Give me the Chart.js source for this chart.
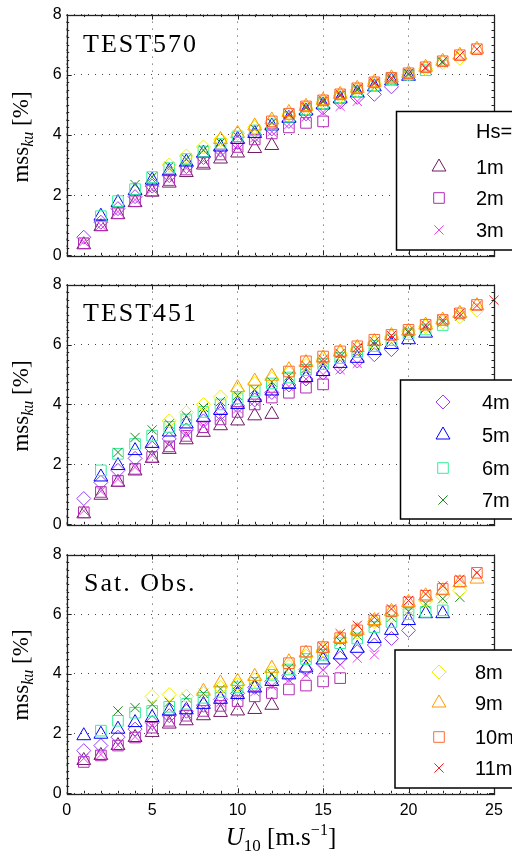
<!DOCTYPE html>
<html>
<head>
<meta charset="utf-8">
<script src="https://cdn.jsdelivr.net/npm/chart.js@4.4.1/dist/chart.umd.min.js"></script>
<style>
  html, body { margin: 0; padding: 0; background: #fff; }
  #wrap { position: relative; width: 512px; height: 861px; overflow: hidden; }
  #wrap canvas { position: absolute; left: 0; }
  .ylab, .xlab, .ptitle { position: absolute; font-family: "Liberation Serif", "DejaVu Serif", serif; color: #000; white-space: nowrap; }
  .ylab { font-size: 23px; transform: translate(-50%, -50%) rotate(-90deg); }
  .ylab sub { font-size: 16px; font-style: italic; vertical-align: -5px; }
  .xlab { font-size: 25px; transform: translate(-50%, -50%); }
  .xlab sub { font-size: 17px; vertical-align: -6px; }
  .xlab sup { font-size: 16px; vertical-align: 10px; }
  .ptitle { font-size: 26px; letter-spacing: 2px; line-height: 26px; }
</style>
</head>
<body>
<div id="wrap">
  <canvas id="c570" width="512" height="270" style="top:0px"></canvas>
  <canvas id="c451" width="512" height="270" style="top:270px"></canvas>
  <canvas id="cSat" width="512" height="290" style="top:540px"></canvas>
  <div class="ptitle" style="left:83px; top:31px">TEST570</div>
  <div class="ptitle" style="left:83px; top:300px">TEST451</div>
  <div class="ptitle" style="left:84px; top:570px">Sat. Obs.</div>
  <div class="ylab" style="left:22px; top:137px">mss<sub>ku</sub> [%]</div>
  <div class="ylab" style="left:22px; top:406px">mss<sub>ku</sub> [%]</div>
  <div class="ylab" style="left:22px; top:675px">mss<sub>ku</sub> [%]</div>
  <div class="xlab" style="left:281px; top:838px"><i>U</i><sub>10</sub> [m.s<sup>&minus;1</sup>]</div>
</div>
<script>
// wind speed bins, m/s (column i of every row below)
const windSpeed = [1, 2, 3, 4, 5, 6, 7, 8, 9, 10, 11, 12, 13, 14, 15, 16, 17, 18, 19, 20, 21, 22, 23, 24, 25];

const hsLabels = ["1m", "2m", "3m", "4m", "5m", "6m", "7m", "8m", "9m", "10m", "11m"];
const hsColors = ["#6e1c62", "#b02cb4", "#f03cf0", "#9a3cf0", "#0000ff", "#33f09c",
                  "#1c8c1c", "#f0f000", "#ff9a00", "#ff6a33", "#ff1a1a"];
const hsMarkers = ["triangle", "rect", "crossRot", "rectRot", "triangle", "rect",
                   "crossRot", "rectRot", "triangle", "rect", "crossRot"];

const yTicks = [0, 2, 4, 6, 8];
const xTicks = [0, 5, 10, 15, 20, 25];

const _ = null;

// mss_ku [%] per Hs class, TEST570
const test570 = [
  [0.35, 0.95, 1.35, 1.75, 2.1, 2.4, 2.75, 3.0, 3.2, 3.4, 3.55, 3.65, _, _, _, _, _, _, _, _, _, _, _, _, _],
  [0.4, 1.0, 1.4, 1.8, 2.15, 2.5, 2.85, 3.1, 3.35, 3.6, 3.85, 4.05, 4.25, 4.4, 4.45, _, _, _, _, _, _, _, _, _, _],
  [0.45, 1.0, 1.45, 1.85, 2.2, 2.55, 2.9, 3.15, 3.4, 3.65, 3.9, 4.1, 4.35, 4.6, 4.75, 4.95, 5.12, _, _, _, _, _, _, _, _],
  [0.6, 1.1, 1.55, 1.95, 2.3, 2.65, 2.95, 3.25, 3.5, 3.75, 4.0, 4.2, 4.45, 4.7, 4.9, 5.1, 5.25, 5.35, 5.6, _, _, _, _, _, _],
  [_, 1.3, 1.75, 2.15, 2.5, 2.8, 3.1, 3.4, 3.6, 3.85, 4.05, 4.3, 4.55, 4.8, 5.0, 5.2, 5.4, 5.6, 5.8, 5.95, _, _, _, _, _],
  [_, 1.3, 1.8, 2.2, 2.6, 2.9, 3.2, 3.45, 3.7, 3.95, 4.15, 4.35, 4.6, 4.85, 5.05, 5.25, 5.45, 5.65, 5.85, 6.0, 6.15, _, _, _, _],
  [_, _, _, 2.35, 2.6, 2.95, 3.2, 3.5, 3.75, 3.95, 4.2, 4.4, 4.65, 4.9, 5.1, 5.3, 5.5, 5.7, 5.85, 6.0, 6.2, 6.4, _, _, _],
  [_, _, _, _, _, 3.0, 3.3, 3.6, 3.85, 4.05, 4.25, 4.45, 4.7, 4.9, 5.1, 5.3, 5.5, 5.7, 5.85, 6.0, 6.2, 6.4, 6.55, _, _],
  [_, _, _, _, _, _, _, _, 3.85, 4.05, 4.3, 4.5, 4.75, 4.95, 5.15, 5.35, 5.55, 5.75, 5.9, 6.05, 6.25, 6.45, 6.65, 6.85, _],
  [_, _, _, _, _, _, _, _, _, _, _, 4.45, 4.7, 4.95, 5.15, 5.35, 5.55, 5.75, 5.9, 6.05, 6.25, 6.45, 6.65, 6.85, _],
  [_, _, _, _, _, _, _, _, _, _, _, _, 4.7, 4.95, 5.15, 5.35, 5.55, 5.75, 5.9, 6.05, 6.25, 6.45, 6.65, 6.85, _]
];

// TEST451
const test451 = [
  [0.35, 0.97, 1.4, 1.78, 2.2, 2.5, 2.82, 3.07, 3.29, 3.45, 3.62, 3.67, _, _, _, _, _, _, _, _, _, _, _, _, _],
  [0.4, 1.08, 1.45, 1.85, 2.25, 2.6, 2.95, 3.24, 3.5, 3.75, 4.0, 4.23, 4.39, 4.56, 4.67, _, _, _, _, _, _, _, _, _, _],
  [0.45, 1.1, 1.5, 1.9, 2.3, 2.65, 3.0, 3.3, 3.6, 3.85, 4.1, 4.35, 4.6, 4.85, 5.0, 5.16, 5.37, _, _, _, _, _, _, _, _],
  [0.86, 1.4, 1.8, 2.2, 2.54, 2.85, 3.15, 3.45, 3.7, 3.95, 4.15, 4.4, 4.65, 4.85, 5.05, 5.25, 5.45, 5.66, 5.83, _, _, _, _, _, _],
  [_, 1.58, 1.96, 2.46, 2.7, 3.08, 3.35, 3.57, 3.8, 4.0, 4.23, 4.45, 4.67, 4.9, 5.1, 5.37, 5.54, 5.8, 6.0, 6.16, 6.38, _, _, _, _],
  [_, 1.8, 2.35, 2.68, 2.96, 3.25, 3.5, 3.75, 4.0, 4.2, 4.45, 4.7, 4.9, 5.15, 5.35, 5.55, 5.75, 5.95, 6.15, 6.35, 6.5, 6.65, _, _, _],
  [_, _, 2.4, 2.9, 3.15, 3.35, 3.62, 3.9, 4.1, 4.3, 4.5, 4.75, 4.95, 5.2, 5.4, 5.6, 5.8, 6.0, 6.2, 6.4, 6.55, 6.75, 6.95, _, _],
  [_, _, _, _, _, 3.45, 3.73, 4.0, 4.25, 4.45, 4.7, 4.85, 5.05, 5.3, 5.5, 5.7, 5.85, 6.05, 6.25, 6.45, 6.6, 6.75, 6.93, 7.15, _],
  [_, _, _, _, _, _, _, _, _, 4.56, 4.78, 4.94, 5.16, 5.4, 5.55, 5.75, 5.9, 6.1, 6.3, 6.45, 6.65, 6.82, 7.04, 7.3, _],
  [_, _, _, _, _, _, _, _, _, _, _, _, 5.1, 5.44, 5.6, 5.77, 5.94, 6.16, 6.32, 6.49, 6.66, 6.82, 7.04, 7.32, _],
  [_, _, _, _, _, _, _, _, _, _, _, _, _, 5.3, 5.5, 5.7, 5.9, 6.1, 6.3, 6.45, 6.65, 6.82, 7.04, 7.3, 7.48]
];

// satellite observations
const satObs = [
  [1.1, 1.27, 1.6, 1.87, 2.04, 2.32, 2.43, 2.6, 2.71, 2.76, 2.81, 2.95, _, _, _, _, _, _, _, _, _, _, _, _, _],
  [1.05, 1.27, 1.6, 1.87, 2.2, 2.43, 2.6, 2.76, 2.93, 3.09, 3.25, 3.36, 3.48, 3.61, 3.75, 3.86, _, _, _, _, _, _, _, _, _],
  [1.17, 1.3, 1.62, 1.9, 2.25, 2.5, 2.68, 2.85, 3.05, 3.25, 3.4, 3.6, 3.8, 3.97, 4.14, 4.31, 4.53, 4.64, _, _, _, _, _, _, _],
  [1.43, 1.6, 1.88, 2.15, 2.37, 2.6, 2.75, 2.95, 3.15, 3.35, 3.55, 3.75, 3.95, 4.15, 4.35, 4.53, 4.75, 4.97, 5.19, 5.46, _, _, _, _, _],
  [1.93, 1.98, 2.15, 2.37, 2.54, 2.76, 2.8, 2.98, 3.15, 3.31, 3.53, 3.75, 3.97, 4.2, 4.47, 4.64, 4.86, 5.19, 5.46, 5.79, 6.02, 6.02, _, _, _],
  [_, 2.1, 2.43, 2.7, 2.76, 2.9, 3.0, 3.2, 3.4, 3.55, 3.7, 3.97, 4.15, 4.5, 4.64, 5.03, 5.19, 5.57, 5.74, 6.0, 6.08, 6.13, _, _, _],
  [_, _, 2.76, 2.87, 2.98, 3.05, 3.2, 3.35, 3.5, 3.65, 3.8, 4.0, 4.2, 4.55, 4.75, 5.1, 5.3, 5.7, 5.9, 6.1, 6.35, 6.52, 6.57, _, _],
  [_, _, _, _, 3.25, 3.31, 3.25, 3.35, 3.55, 3.65, 3.8, 4.05, 4.25, 4.6, 4.8, 5.2, 5.4, 5.75, 5.95, 6.2, 6.45, 6.6, 6.8, _, _],
  [_, _, _, _, _, _, _, 3.42, 3.7, 3.75, 3.92, 4.19, 4.41, 4.7, 4.86, 5.19, 5.46, 5.79, 6.1, 6.4, 6.62, 6.79, 7.06, 7.18, _],
  [_, _, _, _, _, _, _, _, _, _, _, _, 4.36, 4.75, 4.9, 5.2, 5.46, 5.79, 6.1, 6.4, 6.62, 6.85, 7.1, 7.39, _],
  [_, _, _, _, _, _, _, _, _, _, _, _, _, _, 4.91, 5.35, 5.63, 5.9, 6.18, 6.46, 6.68, 6.95, 7.17, 7.39, _]
];

const markerRadius = { triangle: 8, rect: 7.5, crossRot: 6.5, rectRot: 7 };

function buildDatasets(rows) {
  return rows.map((row, k) => ({
    label: hsLabels[k],
    data: row.map((v, i) => ({ x: windSpeed[i], y: v })).filter(p => p.y !== null),
    pointStyle: hsMarkers[k],
    pointRadius: markerRadius[hsMarkers[k]],
    pointBorderWidth: 1,
    borderColor: hsColors[k],
    backgroundColor: "rgba(0,0,0,0)",
    showLine: false,
    order: rows.length - 1 - k,   // larger Hs drawn on top
    clip: false
  }));
}

function drawMarker(ctx, style, r, x, y, color) {
  ctx.save();
  ctx.strokeStyle = color;
  ctx.lineWidth = 1;
  ctx.beginPath();
  if (style === "triangle") {
    for (let j = 0; j < 3; j++) {
      const a = j * 2 * Math.PI / 3;
      const px = x + Math.sin(a) * r, py = y - Math.cos(a) * r;
      j ? ctx.lineTo(px, py) : ctx.moveTo(px, py);
    }
    ctx.closePath();
  } else if (style === "rect") {
    const s = Math.SQRT1_2 * r;
    ctx.rect(x - s, y - s, 2 * s, 2 * s);
  } else if (style === "rectRot") {
    ctx.moveTo(x - r, y); ctx.lineTo(x, y - r); ctx.lineTo(x + r, y); ctx.lineTo(x, y + r);
    ctx.closePath();
  } else {
    const s = Math.SQRT1_2 * r;
    ctx.moveTo(x - s, y - s); ctx.lineTo(x + s, y + s);
    ctx.moveTo(x + s, y - s); ctx.lineTo(x - s, y + s);
  }
  ctx.stroke();
  ctx.restore();
}

// box outline, inward major/minor ticks on all four sides, and the legend box
const framePlugin = {
  id: "frame",
  afterDraw(chart, args, opts) {
    const { ctx, chartArea: a, scales } = chart;
    ctx.save();
    ctx.strokeStyle = "#222";
    ctx.lineWidth = 1;
    ctx.beginPath();
    for (let v = 0; v <= 25; v += 1) {
      const px = Math.round(scales.x.getPixelForValue(v)) + 0.5;
      const len = v % 5 === 0 ? 5 : 2.5;
      ctx.moveTo(px, a.bottom); ctx.lineTo(px, a.bottom - len);
      ctx.moveTo(px, a.top); ctx.lineTo(px, a.top + len);
    }
    for (let v = 0; v <= 8; v += 0.25) {
      const py = Math.round(scales.y.getPixelForValue(v)) + 0.5;
      const len = v % 2 === 0 ? 5 : 2.5;
      ctx.moveTo(a.left, py); ctx.lineTo(a.left + len, py);
      ctx.moveTo(a.right, py); ctx.lineTo(a.right - len, py);
    }
    ctx.stroke();
    ctx.lineWidth = 1.3;
    ctx.strokeRect(Math.round(a.left) + 0.5, Math.round(a.top) + 0.5,
                   Math.round(a.right - a.left), Math.round(a.bottom - a.top));
    ctx.restore();

    const lg = opts.legend;
    if (!lg) return;
    ctx.save();
    ctx.fillStyle = "#fff";
    ctx.fillRect(lg.left, lg.top, 600, lg.bottom - lg.top);
    ctx.strokeStyle = "#000";
    ctx.lineWidth = 1.5;
    ctx.strokeRect(lg.left, lg.top, 600, lg.bottom - lg.top);
    ctx.fillStyle = "#000";
    ctx.font = "20px 'Liberation Sans', Arial, sans-serif";
    ctx.textBaseline = "middle";
    ctx.textAlign = "left";
    lg.rows.forEach(r => {
      if (r.series !== undefined) {
        const st = hsMarkers[r.series];
        drawMarker(ctx, st, markerRadius[st], lg.markerX, r.y, hsColors[r.series]);
        ctx.fillText(hsLabels[r.series], lg.textX, r.y + 1);
      } else {
        ctx.fillText(r.text, lg.textX, r.y + 1);
      }
    });
    ctx.restore();
  }
};

function makePanel(id, rows, padTop, xHeight, showX, legend) {
  const tickFont = { family: "'Liberation Sans', Arial, sans-serif", size: 16 };
  new Chart(document.getElementById(id), {
    type: "scatter",
    data: { datasets: buildDatasets(rows) },
    plugins: [framePlugin],
    options: {
      responsive: false,
      animation: false,
      devicePixelRatio: 1,
      events: [],
      layout: { padding: { left: 0, right: 18, top: padTop, bottom: 0 } },
      plugins: {
        legend: { display: false },
        tooltip: { enabled: false },
        frame: { legend: legend }
      },
      scales: {
        x: {
          type: "linear", min: 0, max: 25,
          afterBuildTicks: s => { s.ticks = xTicks.map(v => ({ value: v })); },
          ticks: { display: showX, color: "#000", font: tickFont, padding: 8, maxRotation: 0 },
          grid: { color: "#444", lineWidth: 1, drawTicks: false },
          border: { display: false, dash: [1, 6] },
          afterFit: s => { s.height = xHeight; }
        },
        y: {
          type: "linear", min: 0, max: 8,
          afterBuildTicks: s => { s.ticks = yTicks.map(v => ({ value: v })); },
          ticks: { color: "#000", font: tickFont, padding: 5 },
          grid: { color: "#444", lineWidth: 1, drawTicks: false },
          border: { display: false, dash: [1, 6] },
          afterFit: s => { s.width = 66.7; }
        }
      }
    }
  });
}

makePanel("c570", test570, 13.3, 14.7, false, {
  left: 396.5, top: 111.5, bottom: 250, markerX: 439, textX: 476,
  rows: [{ text: "Hs=", y: 131 }, { series: 0, y: 167 }, { series: 1, y: 198 }, { series: 2, y: 230 }]
});
makePanel("c451", test451, 12.7, 15.7, false, {
  left: 400.5, top: 110, bottom: 249, markerX: 443, textX: 482,
  rows: [{ series: 3, y: 132 }, { series: 4, y: 165 }, { series: 5, y: 198 }, { series: 6, y: 230 }]
});
makePanel("cSat", satObs, 11.7, 36.7, true, {
  left: 395, top: 110, bottom: 248, markerX: 439, textX: 475,
  rows: [{ series: 7, y: 132 }, { series: 8, y: 163 }, { series: 9, y: 197 }, { series: 10, y: 228 }]
});
</script>
</body>
</html>
